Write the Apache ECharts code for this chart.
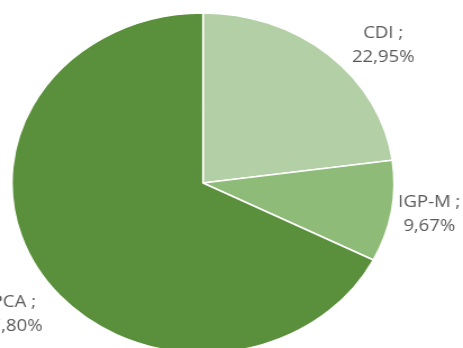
<!DOCTYPE html>
<html>
<head>
<meta charset="utf-8">
<script src="https://cdn.jsdelivr.net/npm/echarts@6/dist/echarts.min.js"></script>
<style>
html,body{margin:0;padding:0;background:#fff;overflow:hidden;}
#wrap{width:463px;height:348px;overflow:hidden;position:relative;}
#chart{width:412px;height:348px;transform:scaleX(1.1238);transform-origin:0 0;}
</style>
</head>
<body>
<div id="wrap"><div id="chart"></div></div>
<script>
const categories = ['CDI', 'IGP-M', 'IPCA'];
const values = [22.95, 9.67, 67.80];
const colors = ['#b3cfa5', '#8fbb78', '#5a8f3b'];
// label anchor positions (pre-scale pixel coords)
const labelPos = [[341, 45], [382, 214], [10, 314]];

const chart = echarts.init(document.getElementById('chart'));
chart.setOption({
  animation: false,
  series: [{
    type: 'pie',
    center: [180.6, 183],
    radius: 170,
    startAngle: 90,
    clockwise: true,
    itemStyle: { borderColor: '#ffffff', borderWidth: 1.5 },
    label: {
      show: true,
      position: 'inside',
      rotate: 0,
      overflow: 'none',
      color: '#595959',
      fontFamily: 'Open Sans',
      fontSize: 16.5,
      lineHeight: 24,
      align: 'center',
      formatter: p => p.name + ' ;\n' + p.value.toFixed(2).replace('.', ',') + '%'
    },
    labelLine: { show: false },
    labelLayout: p => ({ x: labelPos[p.dataIndex][0], y: labelPos[p.dataIndex][1], align: 'center', verticalAlign: 'middle', hideOverlap: false }),
    emphasis: { disabled: true },
    data: categories.map((c, i) => ({ name: c, value: values[i], itemStyle: { color: colors[i] } }))
  }]
});
</script>
</body>
</html>
